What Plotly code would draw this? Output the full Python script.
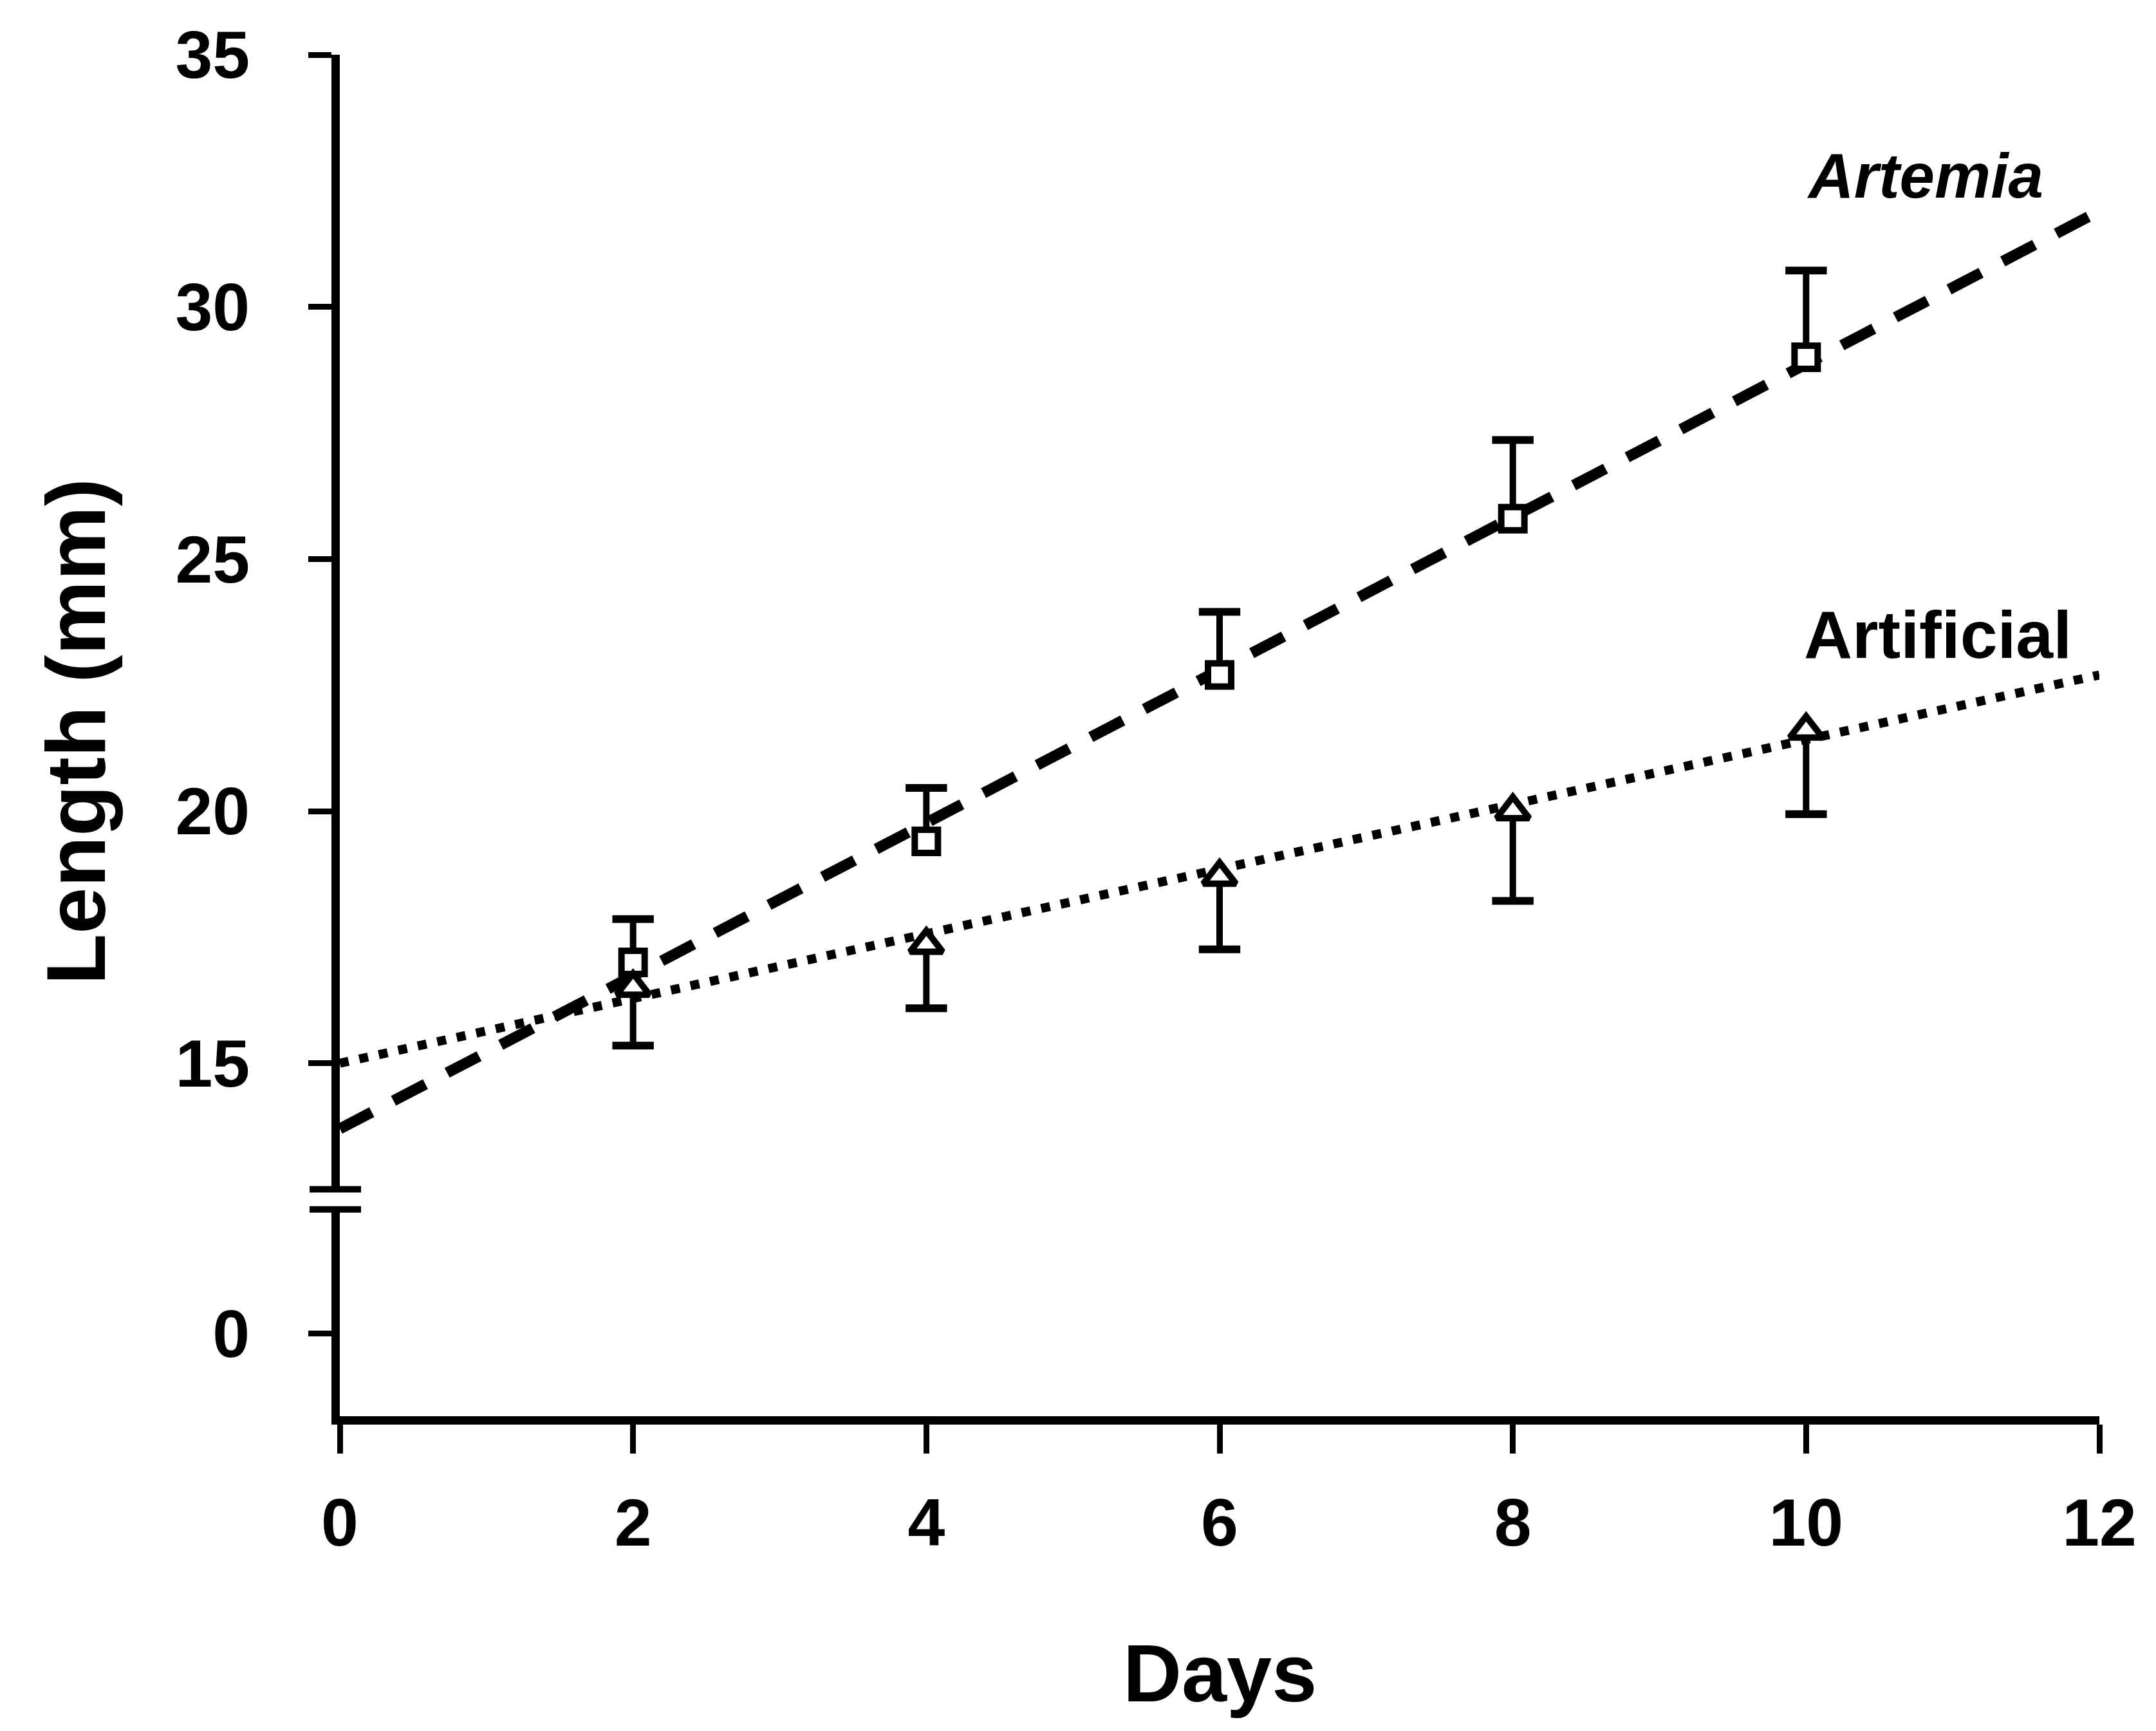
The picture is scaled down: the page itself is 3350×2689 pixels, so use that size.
import plotly.graph_objects as go

# Growth in length of larvae on two diets (means with one-sided error bars)
days = [2, 4, 6, 8, 10]
artemia_len = [17.0, 19.4, 22.7, 25.8, 29.0]
artemia_err_up = [0.86, 1.06, 1.25, 1.56, 1.72]
artificial_len = [16.5, 17.35, 18.7, 20.0, 21.6]
artificial_err_down = [1.15, 1.26, 1.44, 1.78, 1.66]

# Fitted regression lines, read at day 0 and day 12
fit_days = [0, 12]
artemia_fit = [13.7, 31.9]
artificial_fit = [15.0, 22.7]

x_ticks = [0, 2, 4, 6, 8, 10, 12]
y_tick_values = [0, 15, 20, 25, 30, 35]

# The y axis is broken between 0 and 15: values below the break are drawn shifted up
BREAK_SHIFT = 9.64
BREAK_LOW, BREAK_HIGH = 12.1, 12.5
y_tick_pos = [v + BREAK_SHIFT if v < 15 else v for v in y_tick_values]

X_RANGE = [0, 12]
Y_RANGE = [8.0, 35]
PLOT_W = 3350 - 528 - 88  # plot area width in px

INK = "black"
BOLD = "Liberation Sans"

fig = go.Figure()

# regression lines
fig.add_trace(go.Scatter(x=fit_days, y=artemia_fit, mode="lines",
                         line=dict(color=INK, width=17, dash="56px,38px"),
                         hoverinfo="skip"))
fig.add_trace(go.Scatter(x=fit_days, y=artificial_fit, mode="lines",
                         line=dict(color=INK, width=14, dash="14px,17px"),
                         hoverinfo="skip"))


def stems(xs, ys, tips):
    sx, sy = [], []
    for x, y, t in zip(xs, ys, tips):
        sx += [x, x, None]
        sy += [y, t, None]
    return sx, sy


artemia_top = [m + e for m, e in zip(artemia_len, artemia_err_up)]
artificial_bottom = [m - e for m, e in zip(artificial_len, artificial_err_down)]

for ys, tips in ((artemia_len, artemia_top), (artificial_len, artificial_bottom)):
    sx, sy = stems(days, ys, tips)
    fig.add_trace(go.Scatter(x=sx, y=sy, mode="lines",
                             line=dict(color=INK, width=10), hoverinfo="skip"))
    fig.add_trace(go.Scatter(x=days, y=tips, mode="markers",
                             marker=dict(symbol="line-ew", size=46,
                                         line=dict(color=INK, width=12)),
                             hoverinfo="skip"))

# data points
fig.add_trace(go.Scatter(x=days, y=artemia_len, mode="markers", name="Artemia",
                         marker=dict(symbol="square", size=36, color="white",
                                     line=dict(color=INK, width=10))))
fig.add_trace(go.Scatter(x=days, y=artificial_len, mode="markers", name="Artificial",
                         marker=dict(symbol="triangle-up", size=44, color="white",
                                     line=dict(color=INK, width=10))))

# axis break: white gap in the y axis line with two short bars
fig.add_shape(type="rect", xref="paper", yref="y",
              x0=-14 / PLOT_W, x1=14 / PLOT_W, y0=BREAK_LOW, y1=BREAK_HIGH,
              line=dict(width=0), fillcolor="white", layer="above")
for yb in (BREAK_LOW, BREAK_HIGH):
    fig.add_shape(type="line", xref="paper", yref="y",
                  x0=-47 / PLOT_W, x1=33 / PLOT_W, y0=yb, y1=yb,
                  line=dict(color=INK, width=10), layer="above")

# series labels
fig.add_annotation(x=10.81, y=32.6, xref="x", yref="y", text="Artemia",
                   showarrow=False,
                   font=dict(family=BOLD, size=98, color=INK, weight="bold",
                             style="italic"))
fig.add_annotation(x=10.9, y=23.5, xref="x", yref="y", text="Artificial",
                   showarrow=False,
                   font=dict(family=BOLD, size=104, color=INK, weight="bold"))

# axis titles
fig.add_annotation(x=-0.15, y=0.503, xref="paper", yref="paper",
                   text="Length (mm)", textangle=-90, showarrow=False,
                   xanchor="center", yanchor="middle",
                   font=dict(family=BOLD, size=130, color=INK, weight="bold"))
fig.add_annotation(x=0.5, y=-0.189, xref="paper", yref="paper",
                   text="Days", showarrow=False,
                   xanchor="center", yanchor="middle",
                   font=dict(family=BOLD, size=126, color=INK, weight="bold"))

fig.update_xaxes(range=X_RANGE, tickvals=x_ticks, ticktext=[str(t) for t in x_ticks],
                 showgrid=False, zeroline=False,
                 showline=True, linecolor=INK, linewidth=13,
                 ticks="outside", ticklen=45, tickwidth=9, tickcolor=INK,
                 ticklabelstandoff=18,
                 tickfont=dict(family=BOLD, size=104, color=INK, weight="bold"))
fig.update_yaxes(range=Y_RANGE, tickvals=y_tick_pos,
                 ticktext=[str(v) for v in y_tick_values],
                 showgrid=False, zeroline=False,
                 showline=True, linecolor=INK, linewidth=13,
                 ticks="outside", ticklen=36, tickwidth=9, tickcolor=INK,
                 ticklabelstandoff=70,
                 tickfont=dict(family=BOLD, size=104, color=INK, weight="bold"))

fig.update_layout(width=3350, height=2689,
                  margin=dict(l=528, r=88, t=85, b=489),
                  plot_bgcolor="white", paper_bgcolor="white",
                  showlegend=False)

fig.write_html("out.html")
